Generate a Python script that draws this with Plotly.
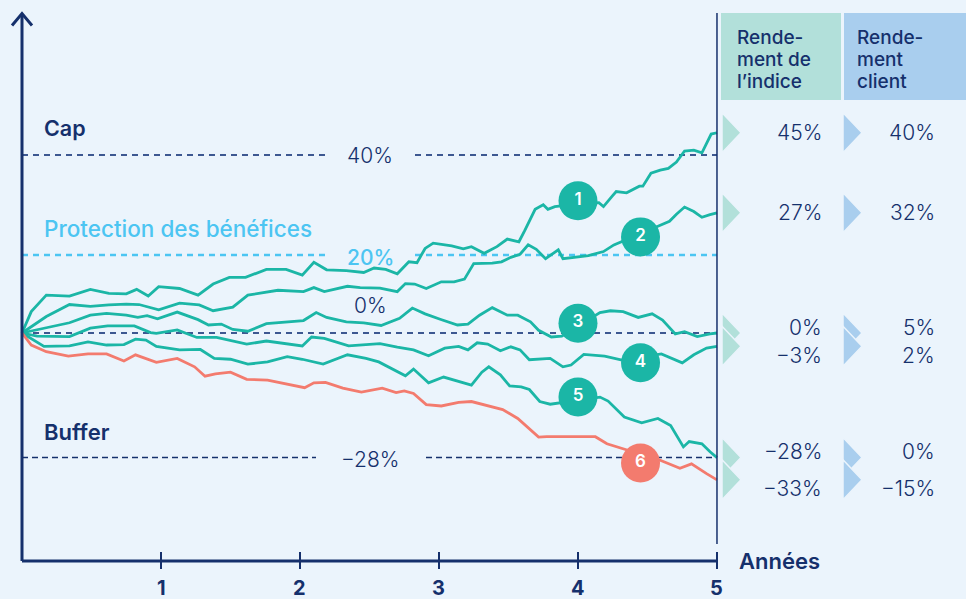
import plotly.graph_objects as go

# ---------------- DATA (months 0-60, return in %) ----------------
l1_m = [0,0.8,2.1,4.1,5.9,7.5,9.0,9.9,10.9,11.8,13.6,15.2,16.5,17.9,19.3,21.1,22.8,24.2,25.2,26.3,28.0,29.5,30.4,31.4,32.4,33.4,34.1,34.8,35.5,37.1,38.1,38.8,39.9,41.0,41.9,42.9,43.4,44.3,45.0,45.4,46.0,48.0,49.8,50.2,50.9,51.3,52.2,53.3,53.6,54.3,55.1,55.8,56.5,57.2,58.0,58.7,59.5,60]
l1_v = [0,4.8,8.5,8.3,9.8,8.9,8.8,9.8,8.3,10.4,10.0,8.5,11.0,12.5,12.5,14.3,14.3,13.0,15.9,14.2,14.0,13.6,14.6,14.3,13.3,16.0,15.8,19.0,20.2,19.6,18.9,19.4,17.9,19.4,21.1,20.5,23.0,27.8,28.8,27.8,28.4,29.0,29.3,28.4,30.6,31.8,31.5,33.0,33.0,35.9,36.6,37.0,38.4,40.9,41.1,40.5,44.7,45]

l2_m = [0,2.1,4.1,5.9,7.5,9.0,10.1,11.8,13.6,15.3,16.5,18.2,19.5,21.0,22.1,24.3,25.2,26.1,28.1,29.2,30.9,32.4,33.1,33.9,34.9,36.2,37.3,38.2,39.0,40.6,41.4,42.2,43.0,43.7,44.4,45.2,46.3,46.7,48.9,50.2,51.1,54.9,55.9,56.5,57.2,58.0,58.7,59.4,60]
l2_v = [0,3.7,6.4,6.0,6.3,6.5,6.4,5.2,6.7,6.3,5.0,5.8,8.5,9.2,9.6,9.3,10.2,9.3,10.5,10.2,10.1,9.3,11.1,11.0,10.0,11.5,11.5,12.1,15.6,15.7,16.0,17.0,17.7,19.8,18.8,16.7,18.7,16.7,17.4,18.3,19.8,24.0,25.1,26.7,28.3,27.3,26.0,26.6,27]

l3_m = [0,4.1,5.9,7.3,9.0,10.0,10.8,11.7,13.4,15.2,16.1,17.2,18.2,19.5,21.1,22.7,24.3,25.4,26.3,28.0,29.5,31.0,32.6,33.7,34.8,36.1,37.6,38.5,39.5,40.6,41.9,42.8,43.9,44.6,45.7,46.6,49.9,50.8,51.9,53.2,54.4,55.3,56.4,57.2,58.3,59.4,60]
l3_v = [0,2.3,4.0,4.4,4.0,3.5,3.9,3.2,4.7,3.0,1.8,2.0,0.8,0.4,2.1,2.4,2.8,4.6,3.5,2.5,2.3,1.7,3.3,5.6,4.3,3.1,1.8,2.0,4.0,5.7,4.0,4.0,2.5,0.6,-0.9,-0.7,4.6,5.0,4.8,3.5,4.3,2.9,-0.2,0.3,-0.8,-0.2,0]

l4_m = [0,1.3,4.1,5.9,7.4,9.7,11.1,11.6,13.4,15.1,16.8,19.4,21.1,22.7,24.2,25.0,26.1,28.2,30.9,32.4,33.8,35.1,36.5,37.7,38.5,39.3,40.2,41.3,42.2,43.0,43.8,45.6,46.7,47.4,48.5,50.3,51.8,55.2,57.0,58.0,59.1,60]
l4_v = [0,-0.7,-0.8,1.1,1.6,1.6,0.1,-0.1,0.7,-1.0,-1.0,-2.5,-1.8,-2.3,-2.9,-0.9,-1.2,-2.9,-2.4,-3.2,-3.8,-5.1,-3.4,-3.0,-3.8,-2.2,-2.5,-4.0,-3.1,-3.8,-6.0,-5.7,-7.6,-7.2,-4.8,-5.2,-6.1,-4.7,-6.7,-4.9,-3.4,-3]

l5_m = [0,1.9,4.1,5.7,7.3,8.8,9.8,10.7,11.6,13.6,15.4,16.6,18.0,19.5,21.2,22.9,24.2,26.0,28.1,29.7,30.8,32.1,33.1,33.8,35.1,36.4,37.7,38.8,39.7,40.3,41.3,42.1,43.1,43.8,44.7,45.6,49.9,50.6,52.0,53.5,54.9,56.0,57.1,57.6,58.7,59.4,60]
l5_v = [0,-3.0,-2.9,-2.0,-2.7,-2.6,-1.4,-1.6,-3.0,-3.8,-3.7,-5.7,-5.9,-7.0,-6.5,-5.3,-5.9,-7.0,-4.9,-5.7,-6.5,-8.3,-9.6,-8.1,-11.2,-9.9,-10.9,-11.7,-8.8,-7.6,-9.4,-11.9,-12.1,-12.7,-15.4,-16.0,-14.4,-15.3,-18.9,-20.2,-19.2,-20.8,-25.6,-24.4,-24.9,-26.7,-28]

l6_m = [0,0.8,2.1,4.0,5.7,7.3,8.8,9.8,11.6,13.4,14.9,15.8,16.7,18.0,19.4,21.2,24.4,25.2,26.2,27.7,29.3,31.1,32.3,33.0,33.8,34.9,36.2,37.7,38.8,40.1,41.5,42.8,44.6,45.3,49.5,50.5,55.1,56.8,57.8,59.1,60]
l6_v = [0,-2.7,-4.2,-5.2,-4.7,-4.7,-6.3,-4.9,-6.6,-5.7,-7.6,-9.7,-9.2,-8.8,-10.4,-10.6,-12.3,-11.2,-11.1,-12.4,-13.3,-12.4,-13.4,-13.0,-13.6,-16.1,-16.4,-15.6,-15.4,-16.2,-17.2,-19.2,-23.4,-23.3,-23.3,-24.9,-28.6,-30.4,-29.4,-31.6,-33]

series_m = [l1_m, l2_m, l3_m, l4_m, l5_m, l6_m]
series_v = [l1_v, l2_v, l3_v, l4_v, l5_v, l6_v]
series_names = ["1", "2", "3", "4", "5", "6"]

# numbered badge anchors (month, %)
badge_m = [48.0, 53.4, 48.0, 53.4, 48.0, 53.4]
badge_v = [29.7, 21.6, 2.2, -6.7, -14.4, -29.2]

index_returns = [45, 27, 0, -3, -28, -33]
client_returns = [40, 32, 5, 2, 0, -15]

cap_level = 40
protection_level = 20
buffer_level = -28
years = [1, 2, 3, 4, 5]

header_index = ["Rende-", "ment de", "l’indice"]
header_client = ["Rende-", "ment", "client"]

# ---------------- STYLE ----------------
NAVY = "#15306C"
DASH_NAVY = "#3D5891"
TEAL = "#1BB6A6"
RED = "#F37B6E"
LIGHTBLUE = "#4CC5F2"
BG = "#EBF4FC"
HDR_TEAL = "#B2E0DA"
HDR_BLUE = "#A9CEEE"
FONT = "Inter"

W, H = 966, 599
X0, PXM = 22, 11.583       # pixel of month 0, pixels per month
Y0, PYP = 333, 4.45        # pixel of 0 %, pixels per %

def mx(px):
    return (px - X0) / PXM

def vy(py):
    return (Y0 - py) / PYP

# protection line sits a little below the nominal 20 % in the original artwork
prot_y = vy(255)

fig = go.Figure()

for i, (m, v) in enumerate(zip(series_m, series_v)):
    fig.add_trace(go.Scatter(x=m, y=v, mode="lines",
                             line=dict(color=RED if i == 5 else TEAL, width=2.8),
                             hoverinfo="skip", showlegend=False))

fig.add_trace(go.Scatter(
    x=badge_m, y=badge_v, mode="markers+text", text=series_names,
    textposition="middle center",
    textfont=dict(family=FONT, size=17, color="white", weight=600),
    marker=dict(size=39, color=[TEAL] * 5 + [RED], line=dict(width=0)),
    hoverinfo="skip", showlegend=False))

shapes = []
ann = []

def line(x0, y0, x1, y1, color, width, dash="solid"):
    shapes.append(dict(type="line", xref="x", yref="y", x0=x0, y0=y0, x1=x1, y1=y1,
                       line=dict(color=color, width=width, dash=dash), layer="below"))

# dashed reference lines
line(0, cap_level, mx(326), cap_level, DASH_NAVY, 2, "6px,5px")
line(mx(415), cap_level, 60, cap_level, DASH_NAVY, 2, "6px,5px")
line(0, prot_y, mx(326), prot_y, LIGHTBLUE, 2.5, "6px,5px")
line(mx(415), prot_y, 60, prot_y, LIGHTBLUE, 2.5, "6px,5px")
line(0, 0, 60, 0, DASH_NAVY, 2, "6px,5px")
line(0, buffer_level, mx(316), buffer_level, NAVY, 1.5, "6px,4px")
line(mx(426), buffer_level, 60, buffer_level, NAVY, 1.5, "6px,4px")

# axes
base = vy(561)
shapes.append(dict(type="line", xref="x", yref="y", x0=0, x1=0, y0=base, y1=vy(14),
                   line=dict(color=NAVY, width=3)))
shapes.append(dict(type="path", xref="x", yref="y",
                   path=f"M {mx(12)},{vy(25.5)} L 0,{vy(13.5)} L {mx(32)},{vy(25.5)}",
                   line=dict(color=NAVY, width=3)))
shapes.append(dict(type="line", xref="x", yref="y", x0=0, x1=60, y0=base, y1=base,
                   line=dict(color=NAVY, width=3)))
for yr in years:
    shapes.append(dict(type="line", xref="x", yref="y", x0=yr * 12, x1=yr * 12,
                       y0=vy(552), y1=vy(569), line=dict(color=NAVY, width=2)))
    ann.append(dict(x=yr * 12, y=vy(588), xref="x", yref="y", text=str(yr), showarrow=False,
                    font=dict(family=FONT, size=20, color=NAVY, weight=700),
                    xanchor="center", yanchor="middle"))
ann.append(dict(x=mx(737), y=vy(561), xref="x", yref="y", text="Années", showarrow=False,
                font=dict(family=FONT, size=22, color=NAVY, weight=600),
                xanchor="left", yanchor="middle"))

# separator
shapes.append(dict(type="line", xref="x", yref="y", x0=60, x1=60, y0=vy(544), y1=vy(13),
                   line=dict(color=NAVY, width=1.5)))

# header boxes
shapes.append(dict(type="rect", xref="x", yref="y", x0=mx(721), x1=mx(841), y0=vy(100), y1=vy(13),
                   fillcolor=HDR_TEAL, line=dict(width=0)))
shapes.append(dict(type="rect", xref="x", yref="y", x0=mx(844), x1=mx(970), y0=vy(100), y1=vy(13),
                   fillcolor=HDR_BLUE, line=dict(width=0)))
for j, (ta, tb) in enumerate(zip(header_index, header_client)):
    yy = vy(37 + 22 * j)
    for xx, tt in [(mx(735), ta), (mx(855), tb)]:
        ann.append(dict(x=xx, y=yy, xref="x", yref="y", text=tt,
                        showarrow=False, xanchor="left", yanchor="middle",
                        font=dict(family=FONT, size=19, color=NAVY, weight=500)))

# triangles + return labels
label_shift = [0, 0, 6, -9, 6, -9]   # pixel offsets to avoid overlaps
half = 20 / PYP
for k, (ir, cr) in enumerate(zip(index_returns, client_returns)):
    for (xa, xb, col) in [(mx(722), mx(741), HDR_TEAL), (mx(843), mx(862), HDR_BLUE)]:
        shapes.append(dict(type="path", xref="x", yref="y",
                           path=f"M {xa},{ir + half} L {xb},{ir} L {xa},{ir - half} Z",
                           fillcolor=col, line=dict(color=BG, width=1.5)))
    for val, xr in [(ir, mx(824)), (cr, mx(937))]:
        txt = (f"{val}%" if val >= 0 else f"\u2212{abs(val)}%")
        ann.append(dict(x=xr, y=ir, xref="x", yref="y", text=txt, showarrow=False,
                        xanchor="right", yanchor="middle", yshift=label_shift[k],
                        font=dict(family=FONT, size=21, color=NAVY, weight=300)))

# left labels
ann.append(dict(x=mx(42), y=vy(128), xref="x", yref="y", text="Cap", showarrow=False,
                xanchor="left", yanchor="middle", font=dict(family=FONT, size=21.5, color=NAVY, weight=600)))
ann.append(dict(x=mx(42), y=vy(228), xref="x", yref="y", text="Protection des bénéfices", showarrow=False,
                xanchor="left", yanchor="middle", font=dict(family=FONT, size=22.5, color=LIGHTBLUE, weight=500)))
ann.append(dict(x=mx(42), y=vy(432), xref="x", yref="y", text="Buffer", showarrow=False,
                xanchor="left", yanchor="middle", font=dict(family=FONT, size=22, color=NAVY, weight=600)))

# level labels
ann.append(dict(x=mx(370), y=cap_level, xref="x", yref="y", text=f"{cap_level}%", showarrow=False,
                xanchor="center", yanchor="middle", font=dict(family=FONT, size=21, color=NAVY, weight=300)))
ann.append(dict(x=mx(370), y=prot_y, xref="x", yref="y", text=f"{protection_level}%", showarrow=False,
                xanchor="center", yanchor="middle", yshift=-2,
                font=dict(family=FONT, size=21, color=LIGHTBLUE, weight=500)))
ann.append(dict(x=mx(370), y=vy(305), xref="x", yref="y", text="0%", showarrow=False,
                xanchor="center", yanchor="middle", font=dict(family=FONT, size=21, color=NAVY, weight=300)))
ann.append(dict(x=mx(370), y=buffer_level, xref="x", yref="y", text=f"\u2212{abs(buffer_level)}%",
                showarrow=False, xanchor="center", yanchor="middle", yshift=-2,
                font=dict(family=FONT, size=21, color=NAVY, weight=300)))

fig.update_layout(
    width=W, height=H, margin=dict(l=0, r=0, t=0, b=0),
    paper_bgcolor=BG, plot_bgcolor=BG,
    xaxis=dict(range=[mx(0), mx(W)], visible=False, fixedrange=True),
    yaxis=dict(range=[vy(H), vy(0)], visible=False, fixedrange=True),
    shapes=shapes, annotations=ann, showlegend=False,
)

fig.write_html("out.html", config={"displayModeBar": False},
               post_script="document.body.style.margin='0';document.body.style.overflow='hidden';")
